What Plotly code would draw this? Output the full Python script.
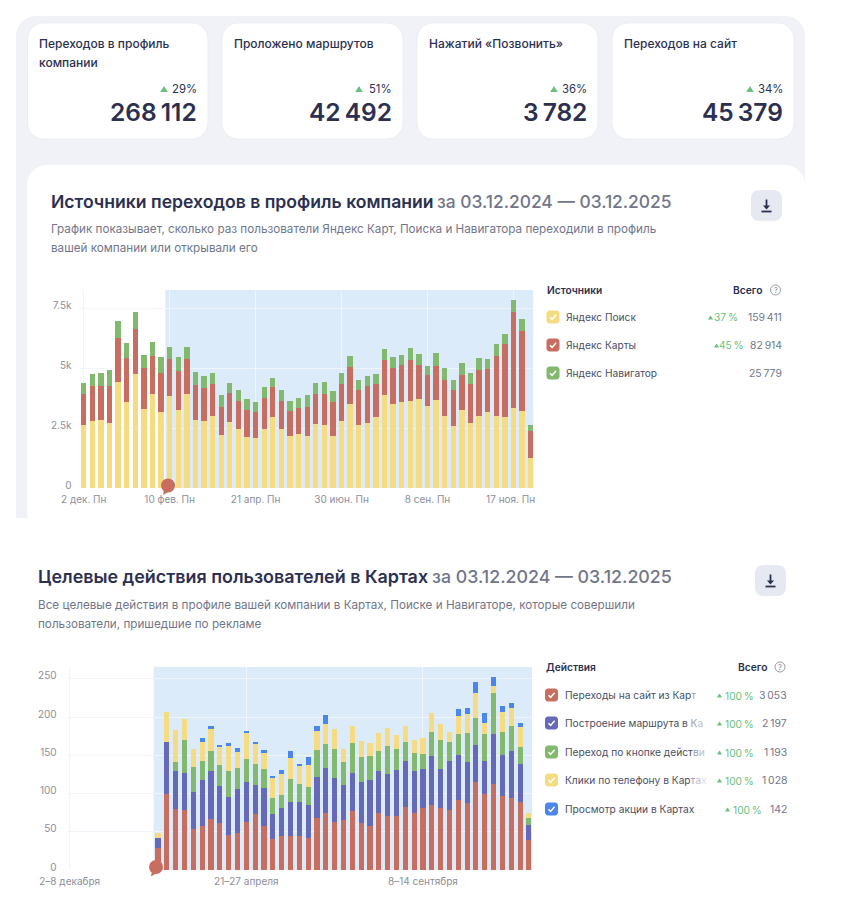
import plotly.graph_objects as go

W, H = 842, 918

# ---------- chart 1 data ----------
src_tickvals = [0, 10, 20, 30, 40, 50]
src_ticktext = ["2 дек. Пн", "10 фев. Пн", "21 апр. Пн", "30 июн. Пн", "8 сен. Пн", "17 ноя. Пн\u00a0\u00a0"]
src_yvals = [0, 2500, 5000, 7500]
src_ytext = ["0", "2.5k", "5k", "7.5k"]
search = [2610, 2810, 2850, 2720, 4410, 3590, 4750, 3290, 3910, 3170, 3850, 3270, 3920, 2850, 2810, 3020,
          2200, 2750, 2460, 2140, 2090, 2460, 2950, 2460, 2170, 2240, 2180, 2650, 2610, 2180, 2780, 3520,
          2630, 2720, 2970, 3880, 3520, 3590, 3630, 3710, 3430, 3660, 3020, 2600, 3240, 2720, 3020, 3170,
          3020, 2950, 3340, 3200, 1260]
maps = [1320, 1430, 1390, 1540, 1860, 1810, 1890, 1720, 1580, 1640, 1520, 1610, 1450, 1450, 1350, 1320,
        1170, 1210, 1170, 1130, 1070, 1280, 1250, 1170, 1030, 1080, 1210, 1250, 1320, 1420, 1560, 1530,
        1450, 1540, 1360, 1460, 1460, 1540, 1710, 1420, 1280, 1420, 1500, 1490, 1470, 1610, 1890, 1780,
        2470, 3030, 4000, 3360, 1130]
navi = [460, 500, 540, 670, 680, 630, 700, 540, 580, 650, 510, 580, 490, 540, 510, 470,
        510, 430, 440, 440, 430, 460, 390, 440, 420, 420, 490, 460, 490, 440, 470, 440,
        420, 420, 420, 440, 490, 430, 510, 460, 390, 540, 490, 430, 510, 470, 490, 440,
        510, 420, 510, 470, 220]

# ---------- chart 2 data ----------
act_tickvals = [0, 20, 40]
act_ticktext = ["2–8 декабря", "21–27 апреля", "8–14 сентября"]
act_yvals = [0, 50, 100, 150, 200, 250]
zeros10 = [0] * 10
site = zeros10 + [29, 100, 80, 79, 53, 58, 67, 62, 46, 48, 63, 73, 58, 41, 45, 44, 44, 42, 68, 74, 63, 66, 77, 62,
                  58, 75, 70, 70, 82, 74, 81, 85, 81, 78, 92, 87, 115, 99, 113, 97, 94, 89, 39]
route = zeros10 + [13, 67, 49, 48, 49, 60, 63, 48, 49, 58, 52, 38, 49, 32, 36, 45, 45, 43, 54, 60, 57, 45, 50, 53,
                   60, 54, 56, 61, 61, 56, 51, 64, 51, 64, 58, 54, 49, 43, 65, 54, 62, 49, 20]
button = zeros10 + [0, 0, 12, 43, 33, 24, 26, 27, 35, 28, 30, 27, 25, 21, 17, 30, 24, 23, 35, 31, 38, 30, 39, 33,
                    31, 27, 36, 27, 24, 23, 20, 31, 38, 26, 28, 38, 35, 36, 53, 29, 32, 23, 9]
phone = zeros10 + [7, 40, 42, 28, 23, 26, 28, 25, 32, 20, 34, 27, 21, 27, 28, 27, 23, 29, 25, 26, 27, 17, 22, 21,
                   17, 23, 24, 19, 21, 17, 21, 25, 21, 12, 24, 25, 33, 14, 10, 26, 24, 26, 6]
promo = zeros10 + [0, 0, 0, 0, 0, 4, 4, 2, 4, 6, 3, 3, 4, 1, 5, 9, 3, 11, 6, 12, 0, 0, 0, 0,
                   0, 0, 0, 0, 0, 0, 0, 0, 0, 0, 8, 8, 14, 13, 11, 8, 6, 5, 0]

# ---------- colours ----------
YELLOW, RED, GREEN, PURPLE, BLUE = "#f5dc82", "#c86e60", "#82b96e", "#6669b8", "#4c86ec"
INK, GREY, AXIS, UP, GRID = "#2c3050", "#71768a", "#8b8f9b", "#6cbf7c", "#f1f4fa"
PANEL, SKY, BTN = "#f0f2f7", "#dcebfa", "#e6e9f2"
FONT = "Inter"


def px(x):
    return x / W


def py(y):
    return 1 - y / H


def P(x, y):
    return f"{px(x):.5f},{py(y):.5f}"


def round_path(x0, y0, x1, y1, r):
    k = r * 0.45
    return (f"M{P(x0 + r, y0)} L{P(x1 - r, y0)} C{P(x1 - k, y0)} {P(x1, y0 + k)} {P(x1, y0 + r)} "
            f"L{P(x1, y1 - r)} C{P(x1, y1 - k)} {P(x1 - k, y1)} {P(x1 - r, y1)} "
            f"L{P(x0 + r, y1)} C{P(x0 + k, y1)} {P(x0, y1 - k)} {P(x0, y1 - r)} "
            f"L{P(x0, y0 + r)} C{P(x0, y0 + k)} {P(x0 + k, y0)} {P(x0 + r, y0)} Z")


shapes, notes = [], []


def rrect(x0, y0, x1, y1, r, fill, layer="below", line=None):
    shapes.append(dict(type="path", xref="paper", yref="paper", path=round_path(x0, y0, x1, y1, r),
                       fillcolor=fill, line=dict(width=1 if line else 0, color=line or fill), layer=layer))


def stroke(points, color, width, layer="above"):
    d = "M" + " L".join(P(x, y) for x, y in points)
    shapes.append(dict(type="path", xref="paper", yref="paper", path=d, line=dict(color=color, width=width),
                       layer=layer))


def solid(points, color, layer="above"):
    d = "M" + " L".join(P(x, y) for x, y in points) + " Z"
    shapes.append(dict(type="path", xref="paper", yref="paper", path=d, fillcolor=color,
                       line=dict(width=0), layer=layer))


def label(x, y, text, size=11.5, color=INK, anchor="left", weight=400):
    shift = {"left": -1, "right": 1}.get(anchor, 0)
    notes.append(dict(xref="paper", yref="paper", x=px(x), y=py(y), text=text, showarrow=False, xanchor=anchor,
                      yanchor="middle", align=anchor, xshift=shift, borderpad=0,
                      font=dict(family=FONT, size=size, color=color, weight=weight)))


def check_box(x, y, color):
    rrect(x, y - 6.5, x + 13, y + 6.5, 3, color, layer="above")
    stroke([(x + 3.5, y + 0.3), (x + 5.6, y + 2.4), (x + 9.6, y - 2.2)], "#ffffff", 1.5)


def up_tri(x, y, half=2.6):
    solid([(x - half, y + half * 0.8), (x + half, y + half * 0.8), (x, y - half * 0.8)], UP)


def download(x, y):
    rrect(x, y, x + 31, y + 31, 8, BTN)
    cx, cy = x + 15.5, y + 15.5
    stroke([(cx, cy - 6), (cx, cy + 1)], INK, 1.8)
    solid([(cx - 3.6, cy), (cx + 3.6, cy), (cx, cy + 4)], INK)
    stroke([(cx - 5, cy + 6), (cx + 5, cy + 6)], INK, 1.8)


def bubble(cx, cy, color=RED):
    shapes.append(dict(type="circle", xref="paper", yref="paper", x0=px(cx - 7), x1=px(cx + 7), y0=py(cy + 7),
                       y1=py(cy - 7), fillcolor=color, line=dict(width=0), layer="above"))
    solid([(cx - 4, cy + 4), (cx + 1, cy + 6), (cx - 5, cy + 9.5)], color)


def help_mark(cx, cy):
    shapes.append(dict(type="circle", xref="paper", yref="paper", x0=px(cx - 5), x1=px(cx + 5), y0=py(cy + 5),
                       y1=py(cy - 5), line=dict(width=0.9, color="#8d91a0"), fillcolor="rgba(0,0,0,0)",
                       layer="above"))
    label(cx, cy, "?", 7.5, "#7d8191", "center")


# ---------- page background ----------
rrect(16, 16, 805, 560, 20, PANEL)
shapes.append(dict(type="rect", xref="paper", yref="paper", x0=0, x1=1, y0=py(918), y1=py(518), fillcolor="#ffffff",
                   line=dict(width=0), layer="below"))
rrect(27, 165, 805, 560, 20, "#ffffff")

# ---------- KPI cards ----------
cards = [(27.5, 208, ["Переходов в профиль", "компании"], "29%", "268\u2009112"),
         (222, 403, ["Проложено маршрутов"], "51%", "42\u2009492"),
         (417, 598, ["Нажатий «Позвонить»"], "36%", "3\u2009782"),
         (612, 794, ["Переходов на сайт"], "34%", "45\u2009379")]
for x0, x1, lines, pct, num in cards:
    rrect(x0, 23, x1, 139, 16, "#ffffff", line="#eceef4")
    for i, t in enumerate(lines):
        label(x0 + 11.5, 44 + i * 18, t, 12, INK, weight=500)
    label(x1 - 11, 89, pct, 11.3, INK, "right")
    up_tri(x1 - 44, 89, 3.8)
    label(x1 - 11, 112, num, 24.5, INK, "right", 600)

# ---------- chart 1 header ----------
label(51, 201, "Источники переходов в профиль компании", 17.6, INK, weight=600)
label(437, 201, "за 03.12.2024 — 03.12.2025", 17.4, GREY, weight=500)
label(51, 229, "График показывает, сколько раз пользователи Яндекс Карт, Поиска и Навигатора переходили в профиль",
      11.7, GREY)
label(51, 248, "вашей компании или открывали его", 11.7, GREY)
download(751, 190)

# ---------- chart 1 legend ----------
label(547, 290, "Источники", 10.2, INK, weight=600)
label(763, 290, "Всего", 10.3, INK, "right", 600)
help_mark(775.5, 290)
rows1 = [(317, YELLOW, "Яндекс Поиск", "37\u2009%", "159\u2009411", 710.5, 738),
         (345, RED, "Яндекс Карты", "45\u2009%", "82\u2009914", 716.5, 744),
         (373, GREEN, "Яндекс Навигатор", None, "25\u2009779", 0, 0)]
for y, c, name, pct, total, tx, pr in rows1:
    check_box(546.5, y, c)
    label(565.5, y, name, 10.2, "#4a4e63")
    if pct:
        up_tri(tx, y + 0.5)
        label(pr, y + 0.5, pct, 10.2, UP, "right")
    label(782, y + 0.5, total, 10.4, GREY, "right")

# ---------- chart 2 header ----------
label(38, 576, "Целевые действия пользователей в Картах", 17.9, INK, weight=600)
label(432, 576, "за 03.12.2024 — 03.12.2025", 17.8, GREY, weight=500)
label(38, 605, "Все целевые действия в профиле вашей компании в Картах, Поиске и Навигаторе, которые совершили",
      11.7, GREY)
label(38, 624, "пользователи, пришедшие по рекламе", 11.7, GREY)
download(755, 565)

# ---------- chart 2 legend ----------
label(546, 667, "Действия", 10.2, INK, weight=600)
label(767.5, 667, "Всего", 10.3, INK, "right", 600)
help_mark(780, 667)


def fade(solid_part, *tail):
    shades = ["#9a9dab", "#bcbec9", "#dcdde3"]
    s = solid_part
    for ch, col in zip(tail, shades):
        s += f'<span style="color:{col}">{ch}</span>'
    return s


rows2 = [(695, RED, fade("Переходы на сайт из Кар", "т"), "3\u2009053", 0),
         (723, PURPLE, fade("Построение маршрута в ", "К", "а"), "2\u2009197", 0),
         (752, GREEN, fade("Переход по кнопке дейст", "в", "и"), "1\u2009193", 0),
         (780, YELLOW, fade("Клики по телефону в Кар", "т", "а", "х"), "1\u2009028", 0),
         (809, BLUE, "Просмотр акции в Картах", "142", 8)]
for y, c, name, total, off in rows2:
    check_box(545, y, c)
    label(565, y, name, 10.2, "#4a4e63")
    up_tri(719.5 + off, y + 0.5)
    label(754 + off, y + 0.5, "100\u2009%", 10.2, UP, "right")
    label(786.5, y + 0.5, total, 10.4, GREY, "right")

# ---------- traces ----------
fig = go.Figure()
weeks1 = list(range(len(search)))
for name, vals, col in [("Яндекс Поиск", search, YELLOW), ("Яндекс Карты", maps, RED), ("Яндекс Навигатор", navi, GREEN)]:
    fig.add_trace(go.Bar(x=weeks1, y=vals, name=name, marker=dict(color=col, line=dict(width=0)), width=0.62,
                         xaxis="x", yaxis="y", showlegend=False))
weeks2 = list(range(len(site)))
for name, vals, col in [("Переходы на сайт из Карт", site, RED), ("Построение маршрута в Картах", route, PURPLE),
                        ("Переход по кнопке действия", button, GREEN), ("Клики по телефону в Картах", phone, YELLOW),
                        ("Просмотр акции в Картах", promo, BLUE)]:
    fig.add_trace(go.Bar(x=weeks2, y=vals, name=name, marker=dict(color=col, line=dict(width=0)), width=0.58,
                         xaxis="x2", yaxis="y2", showlegend=False))

# highlighted period
shapes.append(dict(type="rect", xref="x", yref="y domain", x0=9.5, x1=52.31, y0=0, y1=1, fillcolor=SKY,
                   line=dict(width=0), layer="below"))
shapes.append(dict(type="rect", xref="x2", yref="y2 domain", x0=9.5, x1=52.35, y0=0, y1=1, fillcolor=SKY,
                   line=dict(width=0), layer="below"))
bubble(168, 485.5)
bubble(156, 867)

axis_font = dict(family=FONT, size=10, color=AXIS)
xcommon = dict(showline=False, zeroline=False, showgrid=True, gridcolor=GRID, gridwidth=1, ticks="outside",
               ticklen=2, tickcolor="rgba(0,0,0,0)", tickfont=axis_font, tickangle=0, automargin=False)
ycommon = dict(showline=False, zeroline=False, showgrid=True, gridcolor=GRID, gridwidth=1, ticks="outside",
               tickcolor="rgba(0,0,0,0)", tickfont=axis_font, ticklabelshift=-3, automargin=False)

fig.update_layout(
    width=W, height=H, margin=dict(l=0, r=0, t=0, b=0), paper_bgcolor="#ffffff", plot_bgcolor="rgba(0,0,0,0)",
    barmode="stack", bargap=0.38, showlegend=False, hovermode=False, font=dict(family=FONT),
    shapes=shapes, annotations=notes,
    xaxis=dict(domain=[px(79.5), px(533.3)], range=[-0.49, 52.31], tickvals=src_tickvals, ticktext=src_ticktext,
               anchor="y", **xcommon),
    yaxis=dict(domain=[py(488), py(290)], range=[0, 8250], tickvals=src_yvals, ticktext=src_ytext, anchor="x",
               ticklen=5, **ycommon),
    xaxis2=dict(domain=[px(66.6), px(532)], range=[-0.35, 52.35], tickvals=act_tickvals, ticktext=act_ticktext,
                anchor="y2", **xcommon),
    yaxis2=dict(domain=[py(870), py(667)], range=[0, 265.5], tickvals=act_yvals, anchor="x2", ticklen=7, **ycommon),
)

fig.write_html("out.html", config=dict(displayModeBar=False),
               post_script="document.body.style.margin='0';document.body.style.overflow='hidden';")
